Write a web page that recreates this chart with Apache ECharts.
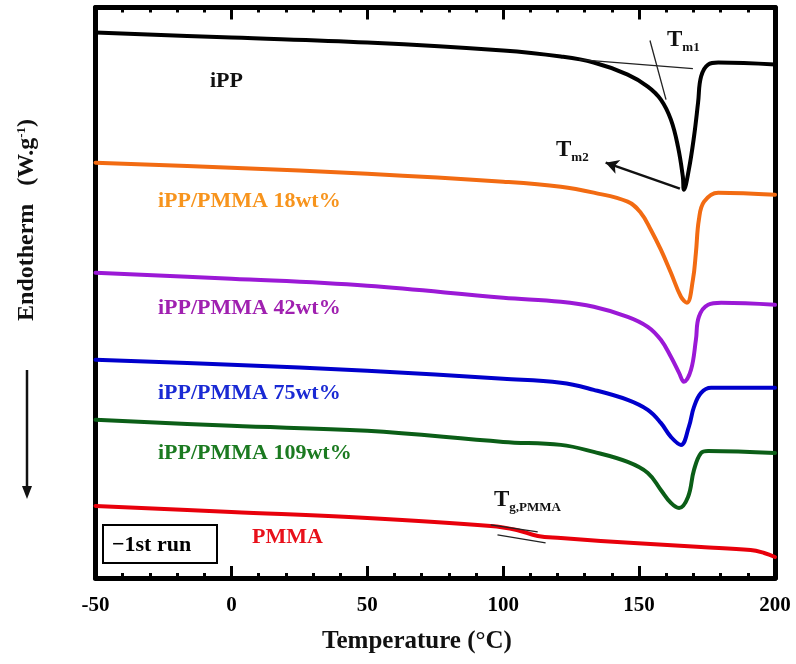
<!DOCTYPE html>
<html><head><meta charset="utf-8">
<script src="https://cdn.jsdelivr.net/npm/echarts@6/dist/echarts.min.js"></script>
<style>html,body{margin:0;padding:0;background:#fff}#c{width:796px;height:664px}</style>
</head><body><div id="c"></div>
<script>
// x ticks
const xTicks = [-50, 0, 50, 100, 150, 200];
// Temperatures (°C) and relative heat-flow (arbitrary offset units, endo down)
const ippT = [-50,0,50,100,121.2,133.3,145.8,153.2,158.0,161.7,164.3,166.1,166.5,168.3,170.2,171.7,172.8,175.4,179.1,200];
const ippY = [545,540,535,527,521,515,503,491,478,458,431,401,388,408,441,475,501,513,515,513];
const pm18T = [-50,0,50,100,121.2,133.3,145.8,150.6,154.3,158.0,161.7,165.4,167.6,169.8,170.9,172.0,173.9,179.1,200];
const pm18Y = [415,410,404,396,391,385,376,365,348,328,305,281,275,298,325,358,376,385,383];
const pm42T = [-50,0,50,100,121.2,133.3,145.8,153.2,158.0,161.7,164.7,166.5,169.1,170.9,172.0,175.4,180.2,200];
const pm42Y = [305,299,292,280,276,271,261,251,238,221,205,196,208,238,261,273,275,273];
const pm75T = [-50,0,50,100,121.2,133.3,145.8,153.2,158.0,161.7,165.4,168.3,170.2,172.8,176.5,200];
const pm75Y = [218,213,207,199,195,188,178,168,155,141,133,151,171,185,190,190];
const pm109T = [-50,0,50,100,121.2,133.3,145.8,153.2,158.0,161.7,164.7,168.0,170.2,172.8,175.4,200];
const pm109Y = [158,152,147,136,133,126,116,105,88,75,70,81,108,125,127,125];
const pmmaT = [-50,0,50,95.4,105,112.7,121.2,135.9,148,172.8,191,196,200];
const pmmaY = [72,66,60,52,48,42,40,37,35,31,28,25,21];
// construction lines (annotation)
const tm1BaseT = [128, 169.8], tm1BaseY = [518, 509];
const tm1SlopeT = [154.0, 159.9], tm1SlopeY = [537, 478];
const tm2ArrowT = [165.0, 137.7], tm2ArrowY = [389, 415];
const tgLine1T = [95.4, 112.7], tgLine1Y = [53, 46];
const tgLine2T = [97.9, 115.6], tgLine2Y = [43, 35];

const zip = (a, b) => a.map((v, i) => [v, b[i]]);
const FF = '"Liberation Serif", "Times New Roman", serif';

function curve(name, T, Y, color) {
  return { name, type: 'line', data: zip(T, Y), showSymbol: false, symbol: 'none', smooth: 0.4,
    lineStyle: { color, width: 4, join: 'round', cap: 'round' }, itemStyle: { color }, silent: true, z: 3 };
}
function thin(T, Y, w) {
  return { type: 'line', data: zip(T, Y), showSymbol: false, symbol: 'none',
    lineStyle: { color: '#222', width: w }, silent: true, z: 4 };
}

const ippSeries = curve('iPP', ippT, ippY, '#000');
ippSeries.markLine = { silent: true, symbol: ['none', 'arrow'], symbolSize: [11, 13],
  lineStyle: { color: '#111', width: 2.5, type: 'solid' }, label: { show: false },
  data: [[{ coord: [tm2ArrowT[0], tm2ArrowY[0]] }, { coord: [tm2ArrowT[1], tm2ArrowY[1]] }]] };

const axisCommon = {
  type: 'value', min: -50, max: 200, interval: 50,
  axisLine: { show: true, onZero: false, lineStyle: { color: '#000', width: 5 } },
  axisTick: { show: true, inside: true, length: 12, lineStyle: { color: '#000', width: 3 } },
  minorTick: { show: true, splitNumber: 5, length: 5, lineStyle: { color: '#000', width: 3 } },
  splitLine: { show: false }, minorSplitLine: { show: false }
};
const yCommon = { type: 'value', min: 0, max: 570, axisLine: { show: true, onZero: false, lineStyle: { color: '#000', width: 5 } },
  axisTick: { show: false }, axisLabel: { show: false }, splitLine: { show: false } };

function txt(x, y, text, color, size, extra) {
  return Object.assign({ type: 'text', x, y, silent: true, z: 10,
    style: { text, fill: color, font: 'bold ' + size + 'px ' + FF, textVerticalAlign: 'middle' } }, extra || {});
}
function subT(x, y, sub) {
  return { type: 'text', x, y, silent: true, z: 10,
    style: { text: '{t|T}{s|' + sub + '}', textVerticalAlign: 'middle',
      rich: { t: { fontFamily: FF, fontWeight: 'bold', fontSize: 23, fill: '#111', verticalAlign: 'bottom' },
              s: { fontFamily: FF, fontWeight: 'bold', fontSize: 13, fill: '#111', verticalAlign: 'bottom', padding: [0, 0, -3, 0] } } } };
}

const chart = echarts.init(document.getElementById('c'));
chart.setOption({
  animation: false,
  backgroundColor: '#fff',
  grid: { left: 95.5, right: 21, top: 7.5, bottom: 86 },
  xAxis: [
    Object.assign({}, axisCommon, { position: 'bottom',
      axisLabel: { show: true, color: '#000', fontFamily: FF, fontWeight: 'bold', fontSize: 21, margin: 17,
        formatter: v => xTicks.includes(v) ? String(v) : '' } }),
    Object.assign({}, axisCommon, { position: 'top', axisLabel: { show: false } })
  ],
  yAxis: [Object.assign({}, yCommon, { position: 'left' }), Object.assign({}, yCommon, { position: 'right' })],
  series: [
    ippSeries,
    curve('iPP/PMMA 18wt%', pm18T, pm18Y, '#f26b12'),
    curve('iPP/PMMA 42wt%', pm42T, pm42Y, '#9b19d6'),
    curve('iPP/PMMA 75wt%', pm75T, pm75Y, '#0000cc'),
    curve('iPP/PMMA 109wt%', pm109T, pm109Y, '#0b5e17'),
    curve('PMMA', pmmaT, pmmaY, '#e8000b'),
    thin(tm1BaseT, tm1BaseY, 1.3),
    thin(tm1SlopeT, tm1SlopeY, 1.3),
    thin(tgLine1T, tgLine1Y, 1.3),
    thin(tgLine2T, tgLine2Y, 1.3)
  ],
  graphic: [
    txt(210, 81, 'iPP', '#111', 22),
    txt(158, 201, 'iPP/PMMA 18wt%', '#f7941d', 22),
    txt(158, 308, 'iPP/PMMA 42wt%', '#a020b0', 22),
    txt(158, 393, 'iPP/PMMA 75wt%', '#1a2ad4', 22),
    txt(158, 453, 'iPP/PMMA 109wt%', '#1b7a20', 22),
    txt(252, 537, 'PMMA', '#e8101a', 22),
    subT(667, 40, 'm1'),
    subT(556, 150, 'm2'),
    subT(494, 500, 'g,PMMA'),
    { type: 'rect', shape: { x: 103, y: 525, width: 114, height: 38 }, silent: true, z: 10,
      style: { fill: '#fff', stroke: '#000', lineWidth: 2 } },
    txt(112, 545, '\u22121st run', '#000', 22, { z: 11 }),
    { type: 'text', x: 27, y: 220, rotation: Math.PI / 2, silent: true, z: 10,
      style: { text: '{a|Endotherm   (W.g}{s|-1}{a|)}', textAlign: 'center', textVerticalAlign: 'middle',
        rich: { a: { fontFamily: FF, fontWeight: 'bold', fontSize: 24, fill: '#111', verticalAlign: 'bottom' },
                s: { fontFamily: FF, fontWeight: 'bold', fontSize: 13, fill: '#111', verticalAlign: 'top' } } } },
    { type: 'line', shape: { x1: 27, y1: 370, x2: 27, y2: 488 }, silent: true, style: { stroke: '#111', lineWidth: 2.5 } },
    { type: 'polygon', shape: { points: [[22, 486], [32, 486], [27, 499]] }, silent: true, style: { fill: '#111' } },
    { type: 'text', x: 417, y: 642, silent: true, z: 10,
      style: { text: 'Temperature (\u00b0C)', fill: '#111', font: 'bold 25px ' + FF, textAlign: 'center', textVerticalAlign: 'middle' } }
  ]
});
</script>
</body></html>
